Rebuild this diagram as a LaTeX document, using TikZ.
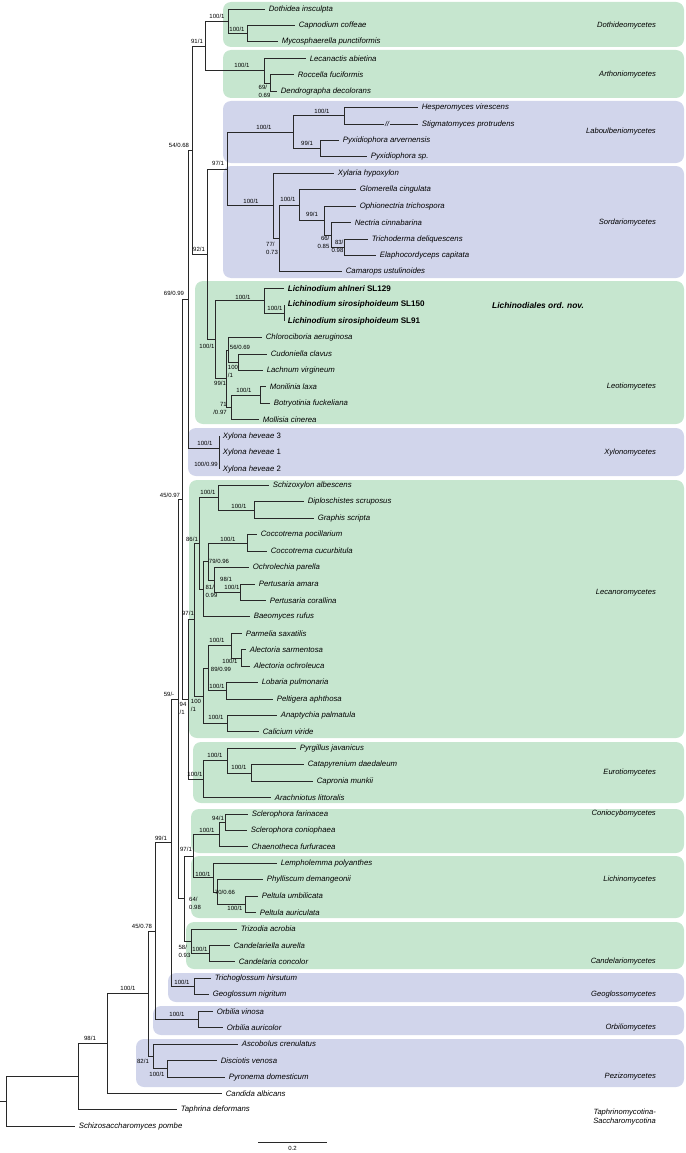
\documentclass[tikz,border=0pt]{standalone}
\usepackage{fontspec}
\setmainfont{Liberation Sans}
\definecolor{leogreen}{RGB}{198,230,207}
\definecolor{sorblue}{RGB}{209,213,235}
\definecolor{twig}{RGB}{40,40,40}

\begin{document}
\begin{tikzpicture}[x=1pt,y=-1pt,
  taxon/.style={anchor=west,inner xsep=3.6pt,inner ysep=0pt,font=\fontsize{7.8}{8}\selectfont\itshape},
  new taxon/.style={taxon,font=\fontsize{8.1}{8}\selectfont\bfseries\itshape},
  supp/.style={inner sep=0pt,font=\fontsize{6}{8}\selectfont,align=left},
  class label/.style={anchor=east,inner sep=0pt,font=\fontsize{7.6}{8.4}\selectfont\itshape,align=right},
  branchline/.style={draw=twig,line width=0.9pt},
  greenbox/.style={fill=leogreen,rounded corners=8pt},
  bluebox/.style={fill=sorblue,rounded corners=8pt}]

  \useasboundingbox (0,0) rectangle (685,1153);

  % class boxes
  \fill[greenbox] (223,2) rectangle (684,47);
  \fill[greenbox] (223,50) rectangle (684,98);
  \fill[bluebox] (223,101) rectangle (684,163);
  \fill[bluebox] (223,166) rectangle (684,278);
  \fill[greenbox] (195,281) rectangle (684,424);
  \fill[bluebox] (188,428) rectangle (684,476);
  \fill[greenbox] (189,480) rectangle (684,738);
  \fill[greenbox] (193,742) rectangle (684,803);
  \fill[greenbox] (191,809) rectangle (684,853);
  \fill[greenbox] (191,856) rectangle (684,918);
  \fill[greenbox] (186,922) rectangle (684,969);
  \fill[bluebox] (168,973) rectangle (684,1002);
  \fill[bluebox] (153,1006) rectangle (684,1035);
  \fill[bluebox] (136,1039) rectangle (684,1087);

  % taxa
  \node[taxon] (l1) at (265,9.0) {Dothidea insculpta};
  \node[taxon] (l2) at (295,25.4) {Capnodium coffeae};
  \node[taxon] (l3) at (278,41.9) {Mycosphaerella punctiformis};
  \node[taxon] (l4) at (306,58.3) {Lecanactis abietina};
  \node[taxon] (l5) at (294,74.7) {Roccella fuciformis};
  \node[taxon] (l6) at (277,91.2) {Dendrographa decolorans};
  \node[taxon] (l7) at (418,107.6) {Hesperomyces virescens};
  \node[taxon] (l8) at (418,124.0) {Stigmatomyces protrudens};
  \node[taxon] (l9) at (339,140.4) {Pyxidiophora arvernensis};
  \node[taxon] (l10) at (367,156.9) {Pyxidiophora sp.};
  \node[taxon] (l11) at (334,173.3) {Xylaria hypoxylon};
  \node[taxon] (l12) at (356,189.7) {Glomerella cingulata};
  \node[taxon] (l13) at (356,206.2) {Ophionectria trichospora};
  \node[taxon] (l14) at (351,222.6) {Nectria cinnabarina};
  \node[taxon] (l15) at (368,239.0) {Trichoderma deliquescens};
  \node[taxon] (l16) at (376,255.5) {Elaphocordyceps capitata};
  \node[taxon] (l17) at (342,271.9) {Camarops ustulinoides};
  \node[new taxon] (l18) at (284,288.3) {Lichinodium ahlneri {\upshape SL129}};
  \node[new taxon] (l19) at (284,304.7) {Lichinodium sirosiphoideum {\upshape SL150}};
  \node[new taxon] (l20) at (284,321.2) {Lichinodium sirosiphoideum {\upshape SL91}};
  \node[taxon] (l21) at (262,337.6) {Chlorociboria aeruginosa};
  \node[taxon] (l22) at (267,354.0) {Cudoniella clavus};
  \node[taxon] (l23) at (263,370.5) {Lachnum virgineum};
  \node[taxon] (l24) at (266,386.9) {Monilinia laxa};
  \node[taxon] (l25) at (270,403.3) {Botryotinia fuckeliana};
  \node[taxon] (l26) at (259,419.8) {Mollisia cinerea};
  \node[taxon] (l27) at (219,436.2) {Xylona heveae {\upshape 3}};
  \node[taxon] (l28) at (219,452.6) {Xylona heveae {\upshape 1}};
  \node[taxon] (l29) at (219,469.0) {Xylona heveae {\upshape 2}};
  \node[taxon] (l30) at (269,485.5) {Schizoxylon albescens};
  \node[taxon] (l31) at (304,501.9) {Diploschistes scruposus};
  \node[taxon] (l32) at (314,518.3) {Graphis scripta};
  \node[taxon] (l33) at (257,534.8) {Coccotrema pocillarium};
  \node[taxon] (l34) at (267,551.2) {Coccotrema cucurbitula};
  \node[taxon] (l35) at (249,567.6) {Ochrolechia parella};
  \node[taxon] (l36) at (255,584.1) {Pertusaria amara};
  \node[taxon] (l37) at (266,600.5) {Pertusaria corallina};
  \node[taxon] (l38) at (250,616.9) {Baeomyces rufus};
  \node[taxon] (l39) at (242,633.3) {Parmelia saxatilis};
  \node[taxon] (l40) at (246,649.8) {Alectoria sarmentosa};
  \node[taxon] (l41) at (250,666.2) {Alectoria ochroleuca};
  \node[taxon] (l42) at (258,682.6) {Lobaria pulmonaria};
  \node[taxon] (l43) at (273,699.1) {Peltigera aphthosa};
  \node[taxon] (l44) at (277,715.5) {Anaptychia palmatula};
  \node[taxon] (l45) at (259,731.9) {Calicium viride};
  \node[taxon] (l46) at (296,748.4) {Pyrgillus javanicus};
  \node[taxon] (l47) at (304,764.8) {Catapyrenium daedaleum};
  \node[taxon] (l48) at (313,781.2) {Capronia munkii};
  \node[taxon] (l49) at (271,797.6) {Arachniotus littoralis};
  \node[taxon] (l50) at (248,814.1) {Sclerophora farinacea};
  \node[taxon] (l51) at (247,830.5) {Sclerophora coniophaea};
  \node[taxon] (l52) at (248,846.9) {Chaenotheca furfuracea};
  \node[taxon] (l53) at (277,863.4) {Lempholemma polyanthes};
  \node[taxon] (l54) at (263,879.8) {Phylliscum demangeonii};
  \node[taxon] (l55) at (258,896.2) {Peltula umbilicata};
  \node[taxon] (l56) at (256,912.7) {Peltula auriculata};
  \node[taxon] (l57) at (237,929.1) {Trizodia acrobia};
  \node[taxon] (l58) at (230,945.5) {Candelariella aurella};
  \node[taxon] (l59) at (235,961.9) {Candelaria concolor};
  \node[taxon] (l60) at (211,978.4) {Trichoglossum hirsutum};
  \node[taxon] (l61) at (209,994.8) {Geoglossum nigritum};
  \node[taxon] (l62) at (213,1011.2) {Orbilia vinosa};
  \node[taxon] (l63) at (223,1027.7) {Orbilia auricolor};
  \node[taxon] (l64) at (238,1044.1) {Ascobolus crenulatus};
  \node[taxon] (l65) at (217,1060.5) {Disciotis venosa};
  \node[taxon] (l66) at (225,1077.0) {Pyronema domesticum};
  \node[taxon] (l67) at (222,1093.4) {Candida albicans};
  \node[taxon] (l68) at (177,1109.8) {Taphrina deformans};
  \node[taxon] (l69) at (75,1126.2) {Schizosaccharomyces pombe};

  % internal nodes
  \coordinate (nCap) at (247,33.7);
  \coordinate (nDoth) at (228,21.4);
  \coordinate (nRoc) at (270,83.0);
  \coordinate (nArth) at (264,70.6);
  \coordinate (n91) at (205,46.0);
  \coordinate (nHes) at (344,115.8);
  \coordinate (nPyx) at (320,148.6);
  \coordinate (nLab) at (293,132.2);
  \coordinate (nTri) at (344,247.3);
  \coordinate (n66) at (331,235.0);
  \coordinate (n99s) at (324,220.6);
  \coordinate (n100s) at (299,205.2);
  \coordinate (n77) at (279,238.5);
  \coordinate (nSor) at (273,205.9);
  \coordinate (n97) at (227,169.1);
  \coordinate (nLsir) at (284,313.0);
  \coordinate (nLich) at (264,300.6);
  \coordinate (nCud) at (238,362.3);
  \coordinate (n56) at (228,350.0);
  \coordinate (nMon) at (260,395.1);
  \coordinate (n71) at (231,407.5);
  \coordinate (n99l) at (226,378.7);
  \coordinate (nLeo) at (215,339.7);
  \coordinate (n92) at (207,254.4);
  \coordinate (n54) at (192,150.2);
  \coordinate (nXy12) at (219,460.8);
  \coordinate (nXy) at (219,448.5);
  \coordinate (n69) at (188,299.4);
  \coordinate (nDip) at (254,510.1);
  \coordinate (nSch) at (218,497.8);
  \coordinate (nCoc) at (247,543.0);
  \coordinate (nPer) at (240,592.3);
  \coordinate (n98) at (214,580.0);
  \coordinate (n79) at (208,561.5);
  \coordinate (n81) at (203,589.2);
  \coordinate (n86) at (199,543.5);
  \coordinate (nAle) at (241,658.0);
  \coordinate (nPar) at (231,645.7);
  \coordinate (nLob) at (226,690.9);
  \coordinate (n89) at (208,668.3);
  \coordinate (nAna) at (227,723.7);
  \coordinate (n100c) at (203,696.0);
  \coordinate (n97l) at (194,619.8);
  \coordinate (nCap2) at (251,773.0);
  \coordinate (nPyr) at (227,760.7);
  \coordinate (nEur) at (203,779.2);
  \coordinate (n94) at (188,699.5);
  \coordinate (n45) at (182,499.5);
  \coordinate (nScl) at (225,822.3);
  \coordinate (nCon) at (219,834.6);
  \coordinate (nPel) at (245,904.5);
  \coordinate (n70) at (217,892.1);
  \coordinate (nLic) at (213,877.8);
  \coordinate (n97c) at (193,856.2);
  \coordinate (nCan) at (209,953.7);
  \coordinate (n58) at (191,941.4);
  \coordinate (n64) at (184,898.8);
  \coordinate (n59) at (178,699.2);
  \coordinate (nGeo) at (194,986.6);
  \coordinate (n99) at (171,842.9);
  \coordinate (nOrb) at (198,1019.5);
  \coordinate (n45b) at (155,931.2);
  \coordinate (nDis) at (167,1068.8);
  \coordinate (n82) at (153,1056.5);
  \coordinate (n100p) at (148,993.8);
  \coordinate (n98p) at (107,1043.6);
  \coordinate (nTap) at (78,1076.7);
  \coordinate (nRoot) at (6,1101.5);
  \coordinate (stem) at (0,1101.5);

  % branches
  \draw[branchline]
   (nCap) |- (l2.west) (nCap) |- (l3.west)
   (nDoth) |- (l1.west) (nDoth) |- (nCap)
   (nRoc) |- (l5.west) (nRoc) |- (l6.west)
   (nArth) |- (l4.west) (nArth) |- (nRoc)
   (n91) |- (nDoth) (n91) |- (nArth)
   (nHes) |- (l7.west) (nHes) |- (l8.west)
   (nPyx) |- (l9.west) (nPyx) |- (l10.west)
   (nLab) |- (nHes) (nLab) |- (nPyx)
   (nTri) |- (l15.west) (nTri) |- (l16.west)
   (n66) |- (l14.west) (n66) |- (nTri)
   (n99s) |- (l13.west) (n99s) |- (n66)
   (n100s) |- (l12.west) (n100s) |- (n99s)
   (n77) |- (n100s) (n77) |- (l17.west)
   (nSor) |- (l11.west) (nSor) |- (n77)
   (n97) |- (nLab) (n97) |- (nSor)
   (nLsir) |- (l19.west) (nLsir) |- (l20.west)
   (nLich) |- (l18.west) (nLich) |- (nLsir)
   (nCud) |- (l22.west) (nCud) |- (l23.west)
   (n56) |- (l21.west) (n56) |- (nCud)
   (nMon) |- (l24.west) (nMon) |- (l25.west)
   (n71) |- (nMon) (n71) |- (l26.west)
   (n99l) |- (n56) (n99l) |- (n71)
   (nLeo) |- (nLich) (nLeo) |- (n99l)
   (n92) |- (n97) (n92) |- (nLeo)
   (n54) |- (n91) (n54) |- (n92)
   (nXy12) |- (l28.west) (nXy12) |- (l29.west)
   (nXy) |- (l27.west) (nXy) |- (nXy12)
   (n69) |- (n54) (n69) |- (nXy);
  \draw[branchline]
   (nDip) |- (l31.west) (nDip) |- (l32.west)
   (nSch) |- (l30.west) (nSch) |- (nDip)
   (nCoc) |- (l33.west) (nCoc) |- (l34.west)
   (nPer) |- (l36.west) (nPer) |- (l37.west)
   (n98) |- (l35.west) (n98) |- (nPer)
   (n79) |- (nCoc) (n79) |- (n98)
   (n81) |- (n79) (n81) |- (l38.west)
   (n86) |- (nSch) (n86) |- (n81)
   (nAle) |- (l40.west) (nAle) |- (l41.west)
   (nPar) |- (l39.west) (nPar) |- (nAle)
   (nLob) |- (l42.west) (nLob) |- (l43.west)
   (n89) |- (nPar) (n89) |- (nLob)
   (nAna) |- (l44.west) (nAna) |- (l45.west)
   (n100c) |- (n89) (n100c) |- (nAna)
   (n97l) |- (n86) (n97l) |- (n100c)
   (nCap2) |- (l47.west) (nCap2) |- (l48.west)
   (nPyr) |- (l46.west) (nPyr) |- (nCap2)
   (nEur) |- (nPyr) (nEur) |- (l49.west)
   (n94) |- (n97l) (n94) |- (nEur)
   (n45) |- (n69) (n45) |- (n94)
   (nScl) |- (l50.west) (nScl) |- (l51.west)
   (nCon) |- (nScl) (nCon) |- (l52.west)
   (nPel) |- (l55.west) (nPel) |- (l56.west)
   (n70) |- (l54.west) (n70) |- (nPel)
   (nLic) |- (l53.west) (nLic) |- (n70)
   (n97c) |- (nCon) (n97c) |- (nLic)
   (nCan) |- (l58.west) (nCan) |- (l59.west)
   (n58) |- (l57.west) (n58) |- (nCan)
   (n64) |- (n97c) (n64) |- (n58)
   (n59) |- (n45) (n59) |- (n64)
   (nGeo) |- (l60.west) (nGeo) |- (l61.west)
   (n99) |- (n59) (n99) |- (nGeo)
   (nOrb) |- (l62.west) (nOrb) |- (l63.west)
   (n45b) |- (n99) (n45b) |- (nOrb)
   (nDis) |- (l65.west) (nDis) |- (l66.west)
   (n82) |- (l64.west) (n82) |- (nDis)
   (n100p) |- (n45b) (n100p) |- (n82)
   (n98p) |- (n100p) (n98p) |- (l67.west)
   (nTap) |- (n98p) (nTap) |- (l68.west)
   (nRoot) |- (nTap) (nRoot) |- (l69.west)
   (stem) -- (nRoot);

  % long branch cut
  \node[fill=sorblue,inner xsep=1pt,inner ysep=0.5pt,font=\fontsize{7}{7}\selectfont\itshape] (cut) at (387,124) {//};

  % support values
  \node[supp] (bDoth) at (217,16) {100/1};
  \node[supp] (bCap) at (237,29) {100/1};
  \node[supp] (b91) at (197,41) {91/1};
  \node[supp] (bArth) at (242,65) {100/1};
  \node[supp] (bRoc) at (264.5,91) {69/\\0.69};
  \node[supp] (b54) at (179,145) {54/0.68};
  \node[supp] (bHes) at (322,111) {100/1};
  \node[supp] (bLab) at (264,127) {100/1};
  \node[supp] (bPyx) at (307,143) {99/1};
  \node[supp] (b97) at (218,163) {97/1};
  \node[supp] (b100s) at (288,199) {100/1};
  \node[supp] (bSor) at (251,201) {100/1};
  \node[supp] (b99s) at (312,214) {99/1};
  \node[supp,align=right] (b66) at (323.5,242.5) {66/\\0.85};
  \node[supp,align=right] (bTri) at (337.5,246.5) {83/\\0.98};
  \node[supp] (b77) at (272,248) {77/\\0.73};
  \node[supp] (b92) at (199,249) {92/1};
  \node[supp] (b69) at (174,293) {69/0.99};
  \node[supp] (bLich) at (243,297) {100/1};
  \node[supp] (bLsir) at (275,308) {100/1};
  \node[supp] (bLeo) at (207,346) {100/1};
  \node[supp] (b56) at (240,347) {56/0.69};
  \node[supp] (bCud) at (233,371) {100\\/1};
  \node[supp] (b99l) at (220,383) {99/1};
  \node[supp] (bMon) at (244,390) {100/1};
  \node[supp,align=right] (b71) at (220,408.5) {71\\/0.97};
  \node[supp] (bXy) at (205,443) {100/1};
  \node[supp] (bXy12) at (206,464) {100/0.99};
  \node[supp] (bSch) at (208,492) {100/1};
  \node[supp] (b45) at (170,495) {45/0.97};
  \node[supp] (bDip) at (239,506) {100/1};
  \node[supp] (b86) at (192,539) {86/1};
  \node[supp] (bCoc) at (228,539) {100/1};
  \node[supp] (b79) at (219,561) {79/0.96};
  \node[supp] (b98) at (226,579) {98/1};
  \node[supp] (bPer) at (232,587) {100/1};
  \node[supp] (b81) at (211.5,591.5) {81/\\0.99};
  \node[supp] (b97l) at (188,613) {97/1};
  \node[supp] (bPar) at (217,640) {100/1};
  \node[supp] (bAle) at (230,661) {100/1};
  \node[supp] (b89) at (221,669) {89/0.99};
  \node[supp] (bLob) at (217,686) {100/1};
  \node[supp] (b59) at (169,694) {59/-};
  \node[supp] (b100c) at (196,705.5) {100\\/1};
  \node[supp] (b94) at (183,708.5) {94\\/1};
  \node[supp] (bAna) at (216,717) {100/1};
  \node[supp] (bPyr) at (215,755) {100/1};
  \node[supp] (bCap2) at (239,767) {100/1};
  \node[supp] (bEur) at (195,774) {100/1};
  \node[supp] (bScl) at (218,818) {94/1};
  \node[supp] (bCon) at (207,830) {100/1};
  \node[supp] (b99) at (161,838) {99/1};
  \node[supp] (b97c) at (186,849) {97/1};
  \node[supp] (bLic) at (203,874) {100/1};
  \node[supp] (b70) at (225,892) {70/0.66};
  \node[supp] (b64) at (195,903.5) {64/\\0.98};
  \node[supp] (bPel) at (235,908) {100/1};
  \node[supp] (b45b) at (142,926) {45/0.78};
  \node[supp] (bCan) at (200,949) {100/1};
  \node[supp] (b58) at (184.5,951.5) {58/\\0.93};
  \node[supp] (bGeo) at (182,982) {100/1};
  \node[supp] (b100p) at (128,988) {100/1};
  \node[supp] (bOrb) at (177,1014) {100/1};
  \node[supp] (b98p) at (90,1038) {98/1};
  \node[supp] (b82) at (143,1061) {82/1};
  \node[supp] (bDis) at (157,1074) {100/1};

  % class names
  \node[class label] (c1) at (656,26) {Dothideomycetes};
  \node[class label] (c2) at (656,75) {Arthoniomycetes};
  \node[class label] (c3) at (656,132) {Laboulbeniomycetes};
  \node[class label] (c4) at (656,223) {Sordariomycetes};
  \node[anchor=west,inner sep=0pt,font=\fontsize{8.4}{9}\selectfont\bfseries\itshape] (c5) at (492,305) {Lichinodiales ord. nov.};
  \node[class label] (c6) at (656,387) {Leotiomycetes};
  \node[class label] (c7) at (656,453) {Xylonomycetes};
  \node[class label] (c8) at (656,593) {Lecanoromycetes};
  \node[class label] (c9) at (656,773) {Eurotiomycetes};
  \node[class label] (c10) at (656,814) {Coniocybomycetes};
  \node[class label] (c11) at (656,880) {Lichinomycetes};
  \node[class label] (c12) at (656,962) {Candelariomycetes};
  \node[class label] (c13) at (656,995) {Geoglossomycetes};
  \node[class label] (c14) at (656,1028) {Orbiliomycetes};
  \node[class label] (c15) at (656,1077) {Pezizomycetes};
  \node[class label] (c16) at (656,1117) {Taphrinomycotina-\\Saccharomycotina};

  % scale bar
  \coordinate (sbl) at (258,1142);
  \coordinate (sbr) at (327,1142);
  \draw[branchline,line width=0.8pt] (sbl) -- (sbr);
  \node[supp] (sbt) at (292.5,1148.5) {0.2};

\end{tikzpicture}
\end{document}
